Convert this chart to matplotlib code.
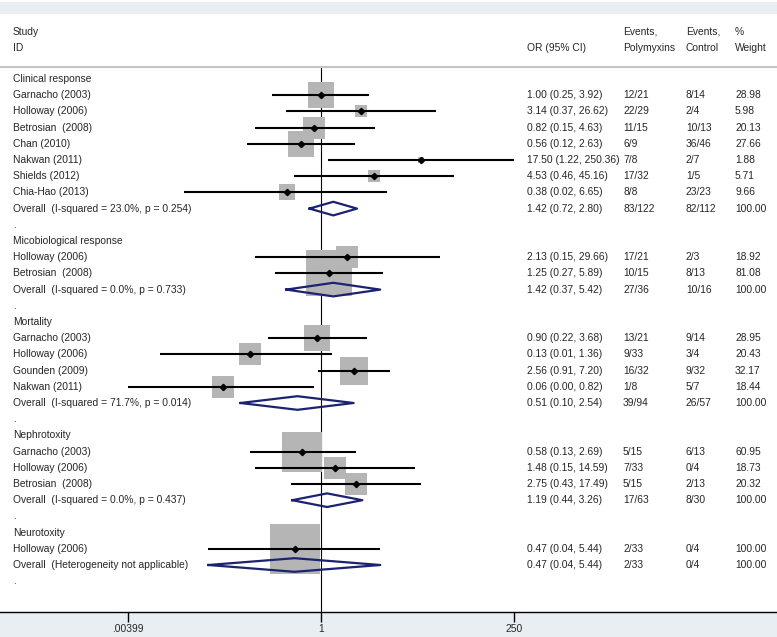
import numpy as np
import matplotlib
matplotlib.use("Agg")
import matplotlib.pyplot as plt
from matplotlib import transforms
from matplotlib.patches import Rectangle
from matplotlib.ticker import NullLocator

# row labels, top to bottom
labels = [
    "Clinical response", "Garnacho (2003)", "Holloway (2006)", "Betrosian  (2008)",
    "Chan (2010)", "Nakwan (2011)", "Shields (2012)", "Chia-Hao (2013)",
    "Overall  (I-squared = 23.0%, p = 0.254)", ".",
    "Micobiological response", "Holloway (2006)", "Betrosian  (2008)",
    "Overall  (I-squared = 0.0%, p = 0.733)", ".",
    "Mortality", "Garnacho (2003)", "Holloway (2006)", "Gounden (2009)", "Nakwan (2011)",
    "Overall  (I-squared = 71.7%, p = 0.014)", ".",
    "Nephrotoxity", "Garnacho (2003)", "Holloway (2006)", "Betrosian  (2008)",
    "Overall  (I-squared = 0.0%, p = 0.437)", ".",
    "Neurotoxity", "Holloway (2006)", "Overall  (Heterogeneity not applicable)", ".",
]
# h = subgroup heading, s = study, o = overall, b = blank
kinds = list("hsssssssob" "hssob" "hssssob" "hsssob" "hsob")

odds = [None, 1.00, 3.14, 0.82, 0.56, 17.50, 4.53, 0.38, 1.42, None,
        None, 2.13, 1.25, 1.42, None,
        None, 0.90, 0.13, 2.56, 0.06, 0.51, None,
        None, 0.58, 1.48, 2.75, 1.19, None,
        None, 0.47, 0.47, None]
ci_low = [None, 0.25, 0.37, 0.15, 0.12, 1.22, 0.46, 0.02, 0.72, None,
          None, 0.15, 0.27, 0.37, None,
          None, 0.22, 0.01, 0.91, 0.00, 0.10, None,
          None, 0.13, 0.15, 0.43, 0.44, None,
          None, 0.04, 0.04, None]
ci_high = [None, 3.92, 26.62, 4.63, 2.63, 250.36, 45.16, 6.65, 2.80, None,
           None, 29.66, 5.89, 5.42, None,
           None, 3.68, 1.36, 7.20, 0.82, 2.54, None,
           None, 2.69, 14.59, 17.49, 3.26, None,
           None, 5.44, 5.44, None]
ev_poly = [None, "12/21", "22/29", "11/15", "6/9", "7/8", "17/32", "8/8", "83/122", None,
           None, "17/21", "10/15", "27/36", None,
           None, "13/21", "9/33", "16/32", "1/8", "39/94", None,
           None, "5/15", "7/33", "5/15", "17/63", None,
           None, "2/33", "2/33", None]
ev_ctrl = [None, "8/14", "2/4", "10/13", "36/46", "2/7", "1/5", "23/23", "82/112", None,
           None, "2/3", "8/13", "10/16", None,
           None, "9/14", "3/4", "9/32", "5/7", "26/57", None,
           None, "6/13", "0/4", "2/13", "8/30", None,
           None, "0/4", "0/4", None]
weights = [None, 28.98, 5.98, 20.13, 27.66, 1.88, 5.71, 9.66, 100.00, None,
           None, 18.92, 81.08, 100.00, None,
           None, 28.95, 20.43, 32.17, 18.44, 100.00, None,
           None, 60.95, 18.73, 20.32, 100.00, None,
           None, 100.00, 100.00, None]

tick_vals = [0.00399, 1, 250]
tick_labels = [".00399", "1", "250"]

W, H = 777, 637
TXT = "#262626"
NAVY = "#1b2370"
BAND = "#e8eef1"

plt.rcParams['font.family'] = ['Liberation Sans', 'DejaVu Sans']
plt.rcParams['font.size'] = 7.4

fig = plt.figure(figsize=(W / 100, H / 100), dpi=100)
fig.patch.set_facecolor("white")

# light bands at top and bottom
fig.add_artist(Rectangle((0, (H - 13) / H), 1, 11 / H, transform=fig.transFigure,
                         color=BAND, zorder=-1))
fig.add_artist(Rectangle((0, 0), 1, (H - 612) / H, transform=fig.transFigure,
                         color=BAND, zorder=-1))

ax = fig.add_axes([0, (H - 612) / H, 1, (612 - 67) / H])
ax.set_facecolor("white")
ax.set_xscale("log")
k = 35.0
ax.set_xlim(np.exp(-321 / k), np.exp((W - 321) / k))
ax.set_ylim((612 - 79) / 16.2, (67 - 79) / 16.2)

for side in ["left", "right"]:
    ax.spines[side].set_visible(False)
ax.spines["top"].set_color("#c4c4c4")
ax.spines["top"].set_linewidth(1.5)
ax.spines["bottom"].set_linewidth(1.0)
ax.set_yticks([])
ax.set_xticks(tick_vals)
ax.set_xticklabels(tick_labels)
ax.xaxis.set_minor_locator(NullLocator())
ax.tick_params(axis="x", direction="out", length=7, width=1, pad=2,
               labelsize=7.4, labelcolor=TXT)

ax.axvline(1, color="black", lw=0.8, zorder=1)

xmin = tick_vals[0]
for r, kind in enumerate(kinds):
    if kind == "s":
        lo = max(ci_low[r], xmin)
        side = 5.0 * np.sqrt(weights[r]) * 0.72
        ax.scatter([odds[r]], [r], marker="s", s=side ** 2, color="#b5b5b5",
                   linewidths=0, zorder=2)
        ax.plot([lo, ci_high[r]], [r, r], color="black", lw=1.5, zorder=3,
                solid_capstyle="butt")
        ax.plot([odds[r]], [r], marker="D", ms=3.2, color="black", zorder=4)
    elif kind == "o":
        xs = [ci_low[r], odds[r], ci_high[r], odds[r], ci_low[r]]
        ys = [r, r - 0.42, r, r + 0.42, r]
        ax.plot(xs, ys, color=NAVY, lw=1.6, zorder=4)

# text columns
blend = transforms.blended_transform_factory(fig.transFigure, ax.transData)
for r, lab in enumerate(labels):
    ax.text(13 / W, r, lab, transform=blend, ha="left", va="center", color=TXT)
    if kinds[r] in "so":
        ax.text(527 / W, r, f"{odds[r]:.2f} ({ci_low[r]:.2f}, {ci_high[r]:.2f})",
                transform=blend, ha="left", va="center", color=TXT)
        ax.text(623 / W, r, ev_poly[r], transform=blend, ha="left", va="center", color=TXT)
        ax.text(686 / W, r, ev_ctrl[r], transform=blend, ha="left", va="center", color=TXT)
        ax.text(735 / W, r, f"{weights[r]:.2f}", transform=blend, ha="left",
                va="center", color=TXT)

# header
def head(x, y, s):
    fig.text(x / W, 1 - y / H, s, ha="left", va="center", color=TXT)

head(13, 32, "Study")
head(13, 48, "ID")
head(527, 48, "OR (95% CI)")
head(623, 32, "Events,")
head(623, 48, "Polymyxins")
head(686, 32, "Events,")
head(686, 48, "Control")
head(735, 32, "%")
head(735, 48, "Weight")

fig.savefig("out.png", dpi=100)
